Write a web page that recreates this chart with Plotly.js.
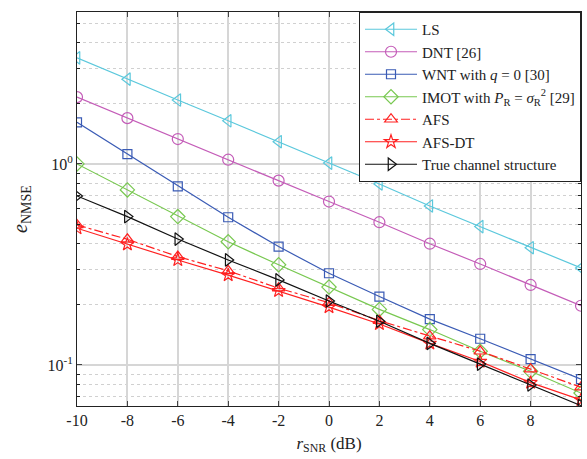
<!DOCTYPE html>
<html>
<head>
<meta charset="utf-8">
<script src="https://cdn.plot.ly/plotly-3.0.1.min.js"></script>
<style>html,body{margin:0;padding:0;background:#fff}</style>
</head>
<body>
<div id="chart" style="width:587px;height:459px"></div>
<script>
const snr = [-10, -8, -6, -4, -2, 0, 2, 4, 6, 8, 10];
const ls    = [3.37, 2.64, 2.08, 1.64, 1.29, 1.01, 0.795, 0.618, 0.488, 0.383, 0.304];
const dnt   = [2.15, 1.69, 1.33, 1.05, 0.826, 0.650, 0.513, 0.401, 0.318, 0.250, 0.197];
const wnt   = [1.61, 1.12, 0.774, 0.543, 0.388, 0.286, 0.219, 0.169, 0.135, 0.107, 0.085];
const imot  = [1.00, 0.743, 0.547, 0.410, 0.315, 0.244, 0.189, 0.150, 0.117, 0.093, 0.0725];
const afs   = [0.497, 0.422, 0.346, 0.294, 0.241, 0.204, 0.166, 0.139, 0.117, 0.0953, 0.0775];
const afsdt = [0.479, 0.398, 0.333, 0.280, 0.234, 0.194, 0.160, 0.128, 0.104, 0.0817, 0.067];
const truech= [0.693, 0.547, 0.423, 0.333, 0.265, 0.208, 0.165, 0.128, 0.101, 0.0795, 0.0628];

const names = ["LS", "DNT [26]", "WNT with <i>q</i> = 0 [30]",
  "IMOT with <i>P</i><sub>R</sub> = <i>σ</i><sub>R</sub><sup>2</sup> [29]",
  "AFS", "AFS-DT", "True channel structure"];
const yTickVals = [0.1, 1];
const yTickText = ["10<sup>-1</sup>", "10<sup>0</sup>"];
const xTickVals = [-10, -8, -6, -4, -2, 0, 2, 4, 6, 8, 10];
const xTickText = ["-10", "-8", "-6", "-4", "-2", "0", "2", "4", "6", "8", "10"];
const minorVals = [0.07, 0.08, 0.09, 0.2, 0.3, 0.4, 0.5, 0.6, 0.7, 0.8, 0.9, 2, 3, 4, 5];

const series = [ls, dnt, wnt, imot, afs, afsdt, truech];
const colors = ["#5BC8DC", "#C45CB8", "#3A5BB5", "#78C850", "#FF2020", "#FF2020", "#111111"];
const symbols = ["triangle-left-open", "circle-open", "square-open", "diamond-open",
  "triangle-up-open", "star-open", "triangle-right-open"];
const dashes = ["solid", "solid", "solid", "solid", "dashdot", "solid", "solid"];
const sizes = [11, 11, 9, 11, 11, 10, 11];

const traces = series.map((s, i) => ({
  x: snr, y: s, name: names[i], type: "scatter", mode: "lines+markers",
  line: {color: colors[i], width: 1.2, dash: dashes[i]},
  marker: {symbol: symbols[i], size: sizes[i], color: colors[i], line: {color: colors[i], width: 1.2}}
}));

const font = {family: "Liberation Serif", size: 16, color: "#222"};
const layout = {
  width: 587, height: 459,
  margin: {l: 77, r: 6, t: 12, b: 53},
  paper_bgcolor: "#fff", plot_bgcolor: "#fff",
  font: font,
  showlegend: true,
  legend: {x: 1, xanchor: "right", y: 1, yanchor: "top", bgcolor: "#fff",
    bordercolor: "#222", borderwidth: 1, font: {family: "Liberation Serif", size: 15, color: "#222"},
    tracegroupgap: 0, itemwidth: 52},
  xaxis: {
    range: [-10, 10], tickvals: xTickVals, ticktext: xTickText, ticks: "inside", ticklen: 5,
    showline: true, linecolor: "#222", linewidth: 1, mirror: "ticks",
    showgrid: true, gridcolor: "#d6d6d6", gridwidth: 2, zeroline: false,
    title: {text: "<i>r</i><sub>SNR</sub> (dB)", font: {family: "Liberation Serif", size: 17, color: "#222"}, standoff: 8},
    tickfont: font
  },
  yaxis: {
    type: "log", range: [Math.log10(0.0625), Math.log10(5.7)],
    tickvals: yTickVals, ticktext: yTickText, ticks: "inside", ticklen: 5,
    showline: true, linecolor: "#222", linewidth: 1, mirror: "ticks",
    showgrid: true, gridcolor: "#d6d6d6", gridwidth: 2, zeroline: false,
    minor: {tickvals: minorVals, ticks: "inside", ticklen: 3, tickcolor: "#222",
      showgrid: true, gridcolor: "#d0d0d0", griddash: "dot", gridwidth: 1},
    title: {text: "<i>e</i><sub>NMSE</sub>", font: {family: "Liberation Serif", size: 20, color: "#222"}, standoff: 14},
    tickfont: font
  }
};
Plotly.newPlot("chart", traces, layout, {displayModeBar: false, staticPlot: true});
</script>
</body>
</html>
